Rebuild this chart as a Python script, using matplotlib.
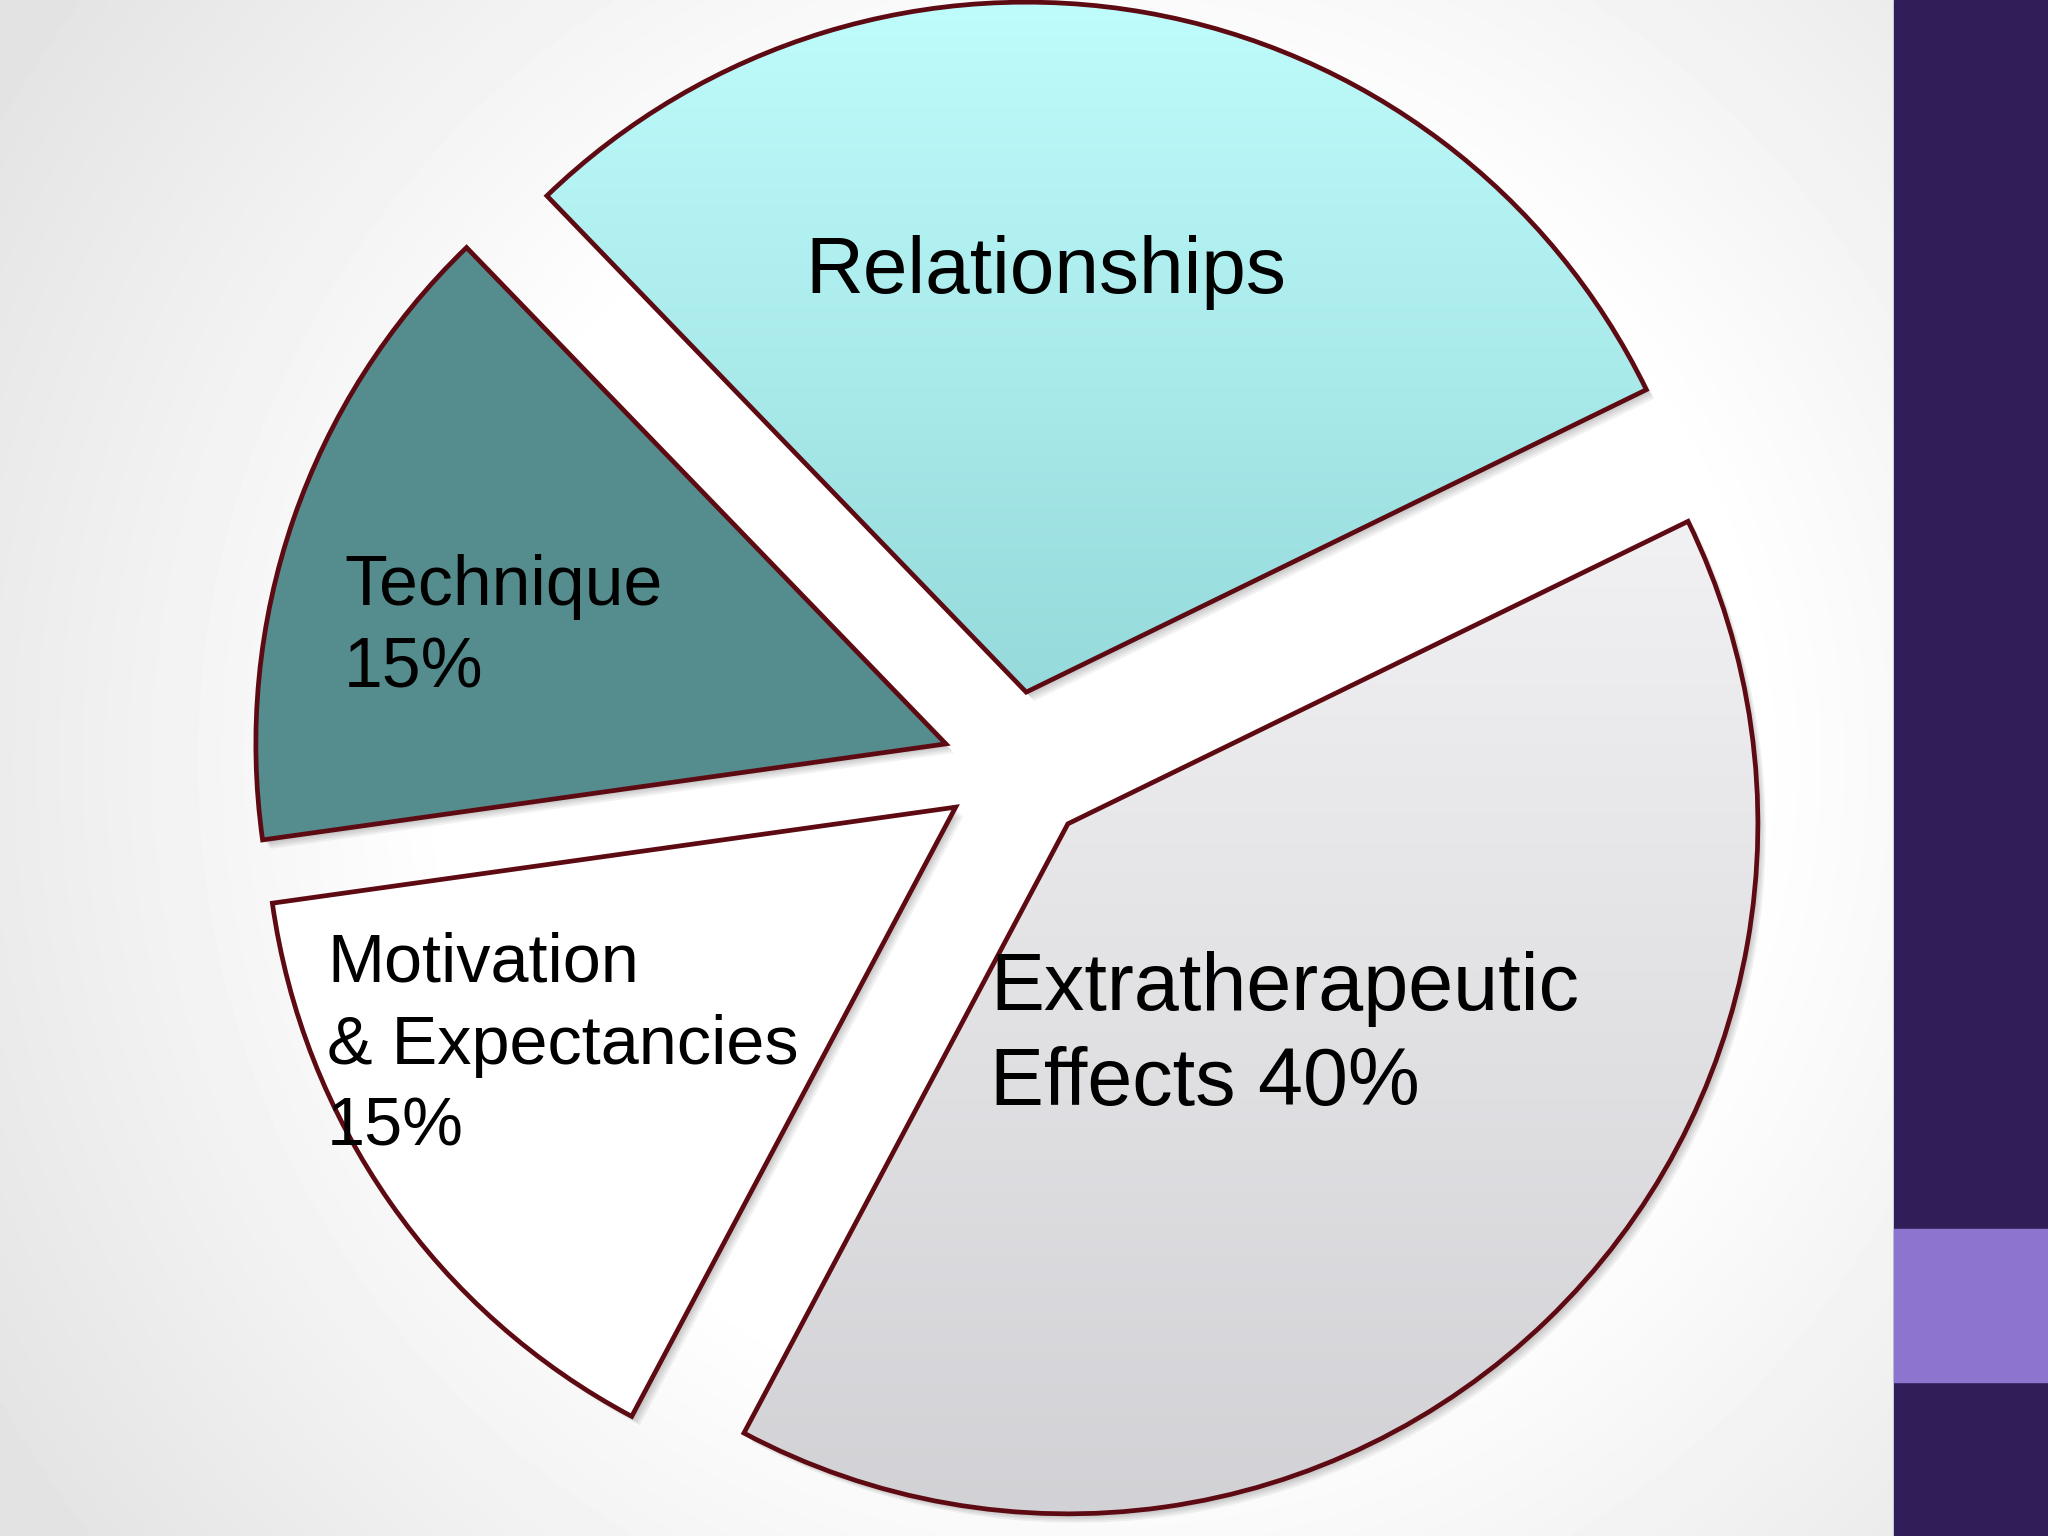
import numpy as np
import matplotlib.pyplot as plt
from matplotlib.patches import Wedge, Rectangle
from matplotlib.colors import LinearSegmentedColormap

# data
categories = ['Relationships', 'Technique', 'Motivation & Expectancies', 'Extratherapeutic Effects']
shares = [30, 15, 15, 40]
label_lines = [['Relationships'],
               ['Technique', '15%'],
               ['Motivation', '& Expectancies', '15%'],
               ['Extratherapeutic', 'Effects 40%']]

W, H = 2048, 1536
fig = plt.figure(figsize=(20.48, 15.36), dpi=100)
ax = fig.add_axes([0, 0, 1, 1])

# soft grey vignette behind everything
yy, xx = np.mgrid[0:H:4, 0:W:4]
d = np.hypot(xx - 1100, yy - 760)
shade = 1 - 0.11 * np.clip((d - 650) / 650, 0, 1)
ax.imshow(shade, cmap='gray', vmin=0, vmax=1, extent=(0, W, 0, H),
          origin='upper', zorder=0, interpolation='bilinear')

cx, cy = 1013, H - 767
R = 690
explode = [76, 71, 70, 79]
wedges, _ = ax.pie(shares, explode=explode, startangle=26, counterclock=True,
                   radius=R, center=(cx, cy),
                   colors=['none', '#558C8D', '#FFFFFF', 'none'],
                   wedgeprops=dict(edgecolor='#5E0A12', linewidth=3.4, zorder=3))

# blurry drop shadow
for w in wedges:
    for k in range(1, 6):
        ax.add_patch(Wedge((w.center[0] + k * 1.6, w.center[1] - k * 1.8), w.r,
                           w.theta1, w.theta2, facecolor='black', edgecolor='none',
                           alpha=0.05, zorder=1))

# vertical gradients for the two light wedges
grads = {0: ('#BFFCFC', '#96DADB'), 3: ('#F1F1F3', '#D2D1D5')}
for i, (top, bot) in grads.items():
    w = wedges[i]
    ext = w.get_path().get_extents()
    cmap = LinearSegmentedColormap.from_list('g%d' % i, [top, bot])
    im = ax.imshow(np.linspace(0, 1, 256).reshape(-1, 1), cmap=cmap, aspect='auto',
                   extent=(ext.x0, ext.x1, ext.y0, ext.y1), origin='upper', zorder=2)
    im.set_clip_path(w)

# labels: (left x, first baseline, line step, size) in pixel coords
label_pos = [(805, 293, 0, 57.7), (344, 605, 82, 50.2), (327, 982, 81.5, 49.2), (990, 1010, 95, 58.2)]
for lines, (lx, ly, step, fs) in zip(label_lines, label_pos):
    for j, line in enumerate(lines):
        ax.text(lx, H - (ly + j * step), line, fontsize=fs, family='Liberation Sans',
                ha='left', va='baseline', color='black', zorder=6)

# slide side bar
ax.add_patch(Rectangle((1894, 0), W - 1894, H, color='#2F1E58', zorder=5))
ax.add_patch(Rectangle((1894, H - 1382), W - 1894, 1382 - 1229, color='#8B75CE', zorder=5))

ax.set_xlim(0, W)
ax.set_ylim(0, H)
ax.set_aspect('auto')
ax.axis('off')
fig.savefig('out.png', dpi=100)
